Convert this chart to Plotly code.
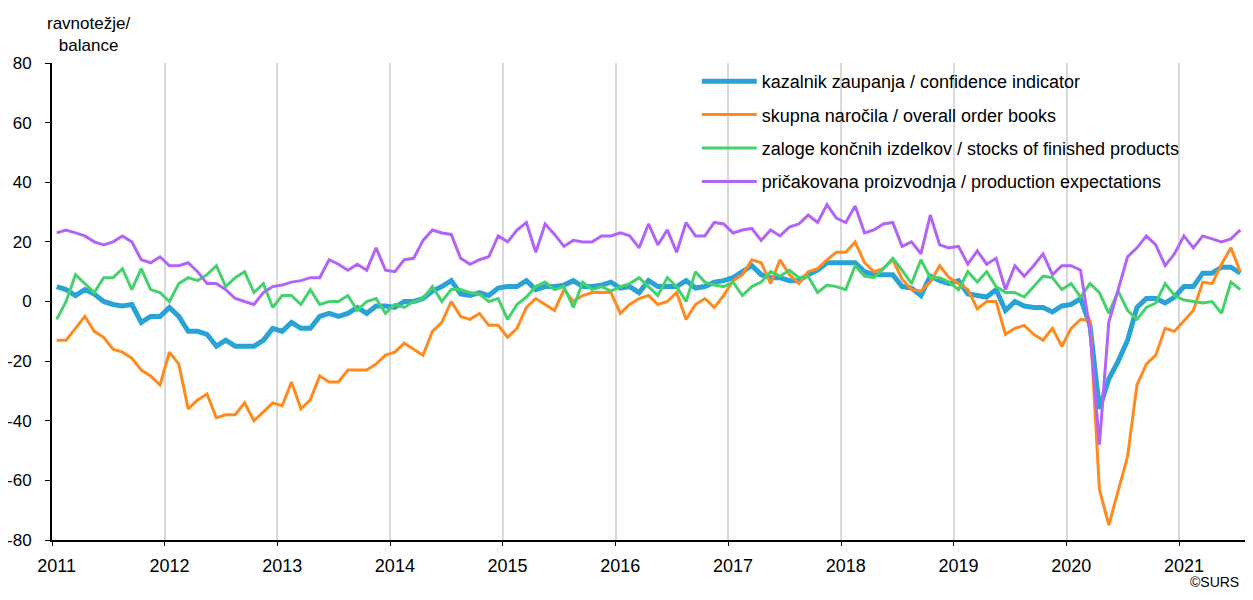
import plotly.graph_objects as go

years = ["2011", "2012", "2013", "2014", "2015", "2016", "2017", "2018", "2019", "2020", "2021"]
y_ticks = [80, 60, 40, 20, 0, -20, -40, -60, -80]

confidence = [5, 4, 2, 4, 2.5, 0, -1, -1.5, -1, -7, -5, -5,
              -2, -5, -10, -10, -11, -15, -13, -15, -15, -15, -13, -9,
              -10, -7, -9, -9, -5, -4, -5, -4, -2, -4, -1.5, -1.5,
              -2, 0, 0, 1, 3.5, 5, 7, 2.5, 2, 3, 2, 4.5,
              5, 5, 7, 4, 5, 5, 5.5, 7, 5, 5, 5.5, 6.5,
              4.5, 5, 3, 7, 5, 5, 5, 7, 4.5, 5, 6.5, 7,
              8, 10, 12, 9, 8, 8, 7, 7, 9, 10.5, 13, 13,
              13, 13, 10, 9, 9, 9, 5, 4.5, 2, 8.5, 7, 6,
              7, 2.5, 2, 1.5, 4, -3, 0, -1.5, -2, -2, -3.5, -1.5,
              -1, 1, -8, -36, -26, -20, -13, -2, 1, 1, -0.5, 1.5,
              5, 5, 9.5, 9.5, 11.5, 11.5, 9.5]

order_books = [-13, -13, -9, -5, -10, -12, -16, -17, -19, -23, -25, -28,
               -17, -21, -36, -33, -31, -39, -38, -38, -34, -40, -37, -34,
               -35, -27, -36, -33, -25, -27, -27, -23, -23, -23, -21, -18,
               -17, -14, -16, -18, -10, -7, 0, -5, -6, -4, -8, -8,
               -12, -9, -2, 1, -1, -3, 4, 0, 2, 3, 3, 3,
               -4, -1, 1, 2, -1, 0, 3, -6, -1, 1, -2, 2,
               7, 9, 14, 13, 6, 14, 9, 6, 10, 11, 14, 16.5,
               16.5, 20, 13, 10, 11, 14, 7.5, 4, 3.5, 6.5, 12, 8,
               6, 4, -2.5, 0, 0, -11, -9, -8, -11, -13, -9, -15,
               -9, -6, -6.5, -63, -75, -63, -52, -28, -21, -18, -9, -10,
               -6.5, -3, 6.5, 6, 12.5, 18, 10]

stocks = [-6, 0, 9, 6, 3, 8, 8, 11, 4, 11, 4, 3,
          0, 6, 8, 7, 9, 12, 5, 8, 10, 3, 6, -2,
          2, 2, -1, 4, -1, 0, 0, 2, -3, 0, 1, -4,
          -1, -2, 0, 1, 5, 0, 4, 4, 3, 2.5, 0, 1,
          -6, -1, 1.5, 5, 6.5, 4, 5, -2, 6.5, 4, 5, 3.5,
          5, 6, 8, 5, 2, 8, 5, 0, 10, 6.5, 5.5, 5,
          6.5, 2, 5, 6.5, 10, 8.5, 10.5, 8, 8.5, 3, 5.5, 5,
          4, 12, 8.5, 8, 11, 14.5, 10.5, 6, 14, 8, 8, 6.5,
          4, 10, 6.5, 10, 5, 3, 3, 1.5, 5, 8.5, 8, 4,
          6, 1.5, 6, 3, -4, 3.5, -3, -6, -2, -0.5, 6, 2,
          0.5, 0, -0.5, 0, -4, 6.5, 4]

expectations = [23, 24, 23, 22, 20, 19, 20, 22, 20, 14, 13, 15,
                12, 12, 13, 10, 6, 6, 4, 1, 0, -1, 3, 5,
                5.5, 6.5, 7, 8, 8, 14, 12.5, 10.5, 12.5, 10.5, 18, 10.5,
                10, 14, 14.5, 20.5, 24, 23, 22.5, 14.5, 12.5, 14, 15, 22,
                20, 24, 26.5, 16.5, 26, 22.5, 18.5, 20.5, 20, 20, 22, 22,
                23, 22, 18, 26, 19, 24, 16.5, 26.5, 22, 22, 26.5, 26,
                23, 24, 24.5, 20.5, 24, 22, 25, 26, 29, 26.5, 32.5, 28,
                26.5, 32, 23, 24, 26, 26.5, 18.5, 20, 16, 29, 19, 18,
                18.5, 12.5, 17, 12.5, 14.5, 4, 12, 8.5, 12, 16, 9, 12,
                12, 10.5, -10, -48, -7, 4, 15, 18, 22, 19, 12, 16,
                22, 18, 22, 21, 20, 21, 24]

series = [
    ("kazalnik zaupanja / confidence indicator", confidence, "#29A3D6", 5),
    ("skupna naročila / overall order books", order_books, "#FF8A1F", 3),
    ("zaloge končnih izdelkov / stocks of finished products", stocks, "#45D16C", 3),
    ("pričakovana proizvodnja / production expectations", expectations, "#B164F5", 3),
]

months = list(range(len(confidence)))
n = len(months)

fig = go.Figure()
for k, (name, vals, color, w) in enumerate(series):
    fig.add_trace(go.Scatter(
        x=months, y=vals, mode="lines", name=name,
        line=dict(color=color, width=w),
        legendgroup="g%d" % k,
    ))

font = "Liberation Sans, Arial, sans-serif"

# page body has an 8px margin; figure sized so it fits the 1253x600 window
fig.update_layout(
    width=1237, height=584,
    margin=dict(l=44, r=0, t=55, b=52),
    paper_bgcolor="white", plot_bgcolor="white",
    font=dict(family=font, size=15, color="#000000"),
    showlegend=True,
    legend=dict(
        x=0.5405, y=1.0, xanchor="left", yanchor="top",
        bgcolor="rgba(0,0,0,0)", font=dict(size=18, family=font),
        tracegroupgap=7, itemwidth=55,
    ),
    xaxis=dict(
        range=[-0.5, n - 0.5],
        tickmode="array",
        tickvals=[12 * j for j in range(len(years))],
        ticktext=years,
        ticks="", showgrid=False,
        minor=dict(
            tickmode="array",
            tickvals=[-0.5 + 12 * j for j in range(len(years))],
            showgrid=True, gridcolor="#D9D9D9", gridwidth=2,
            ticks="outside", ticklen=4, tickcolor="#000000", tickwidth=1,
        ),
        showline=True, linecolor="#000000", linewidth=2,
        zeroline=False,
        tickfont=dict(size=18),
        ticklabelstandoff=8,
    ),
    yaxis=dict(
        range=[-80, 80],
        tickmode="array", tickvals=y_ticks, ticktext=[str(v) for v in y_ticks],
        showgrid=False, zeroline=False,
        showline=True, linecolor="#000000", linewidth=2,
        ticks="outside", ticklen=5, tickcolor="#000000",
        tickfont=dict(size=17),
        ticklabelstandoff=10,
        automargin=False,
    ),
    annotations=[
        dict(text="ravnotežje/<br>balance", xref="paper", yref="paper",
             x=0.0302, y=1.0, xanchor="center", yanchor="bottom",
             yshift=6,
             showarrow=False, font=dict(size=17), align="center"),
        dict(text="©SURS", xref="paper", yref="paper",
             x=1.0, y=0, xanchor="right", yanchor="middle",
             xshift=-4, yshift=-42,
             showarrow=False, font=dict(size=14)),
    ],
)

fig.write_html("out.html")
